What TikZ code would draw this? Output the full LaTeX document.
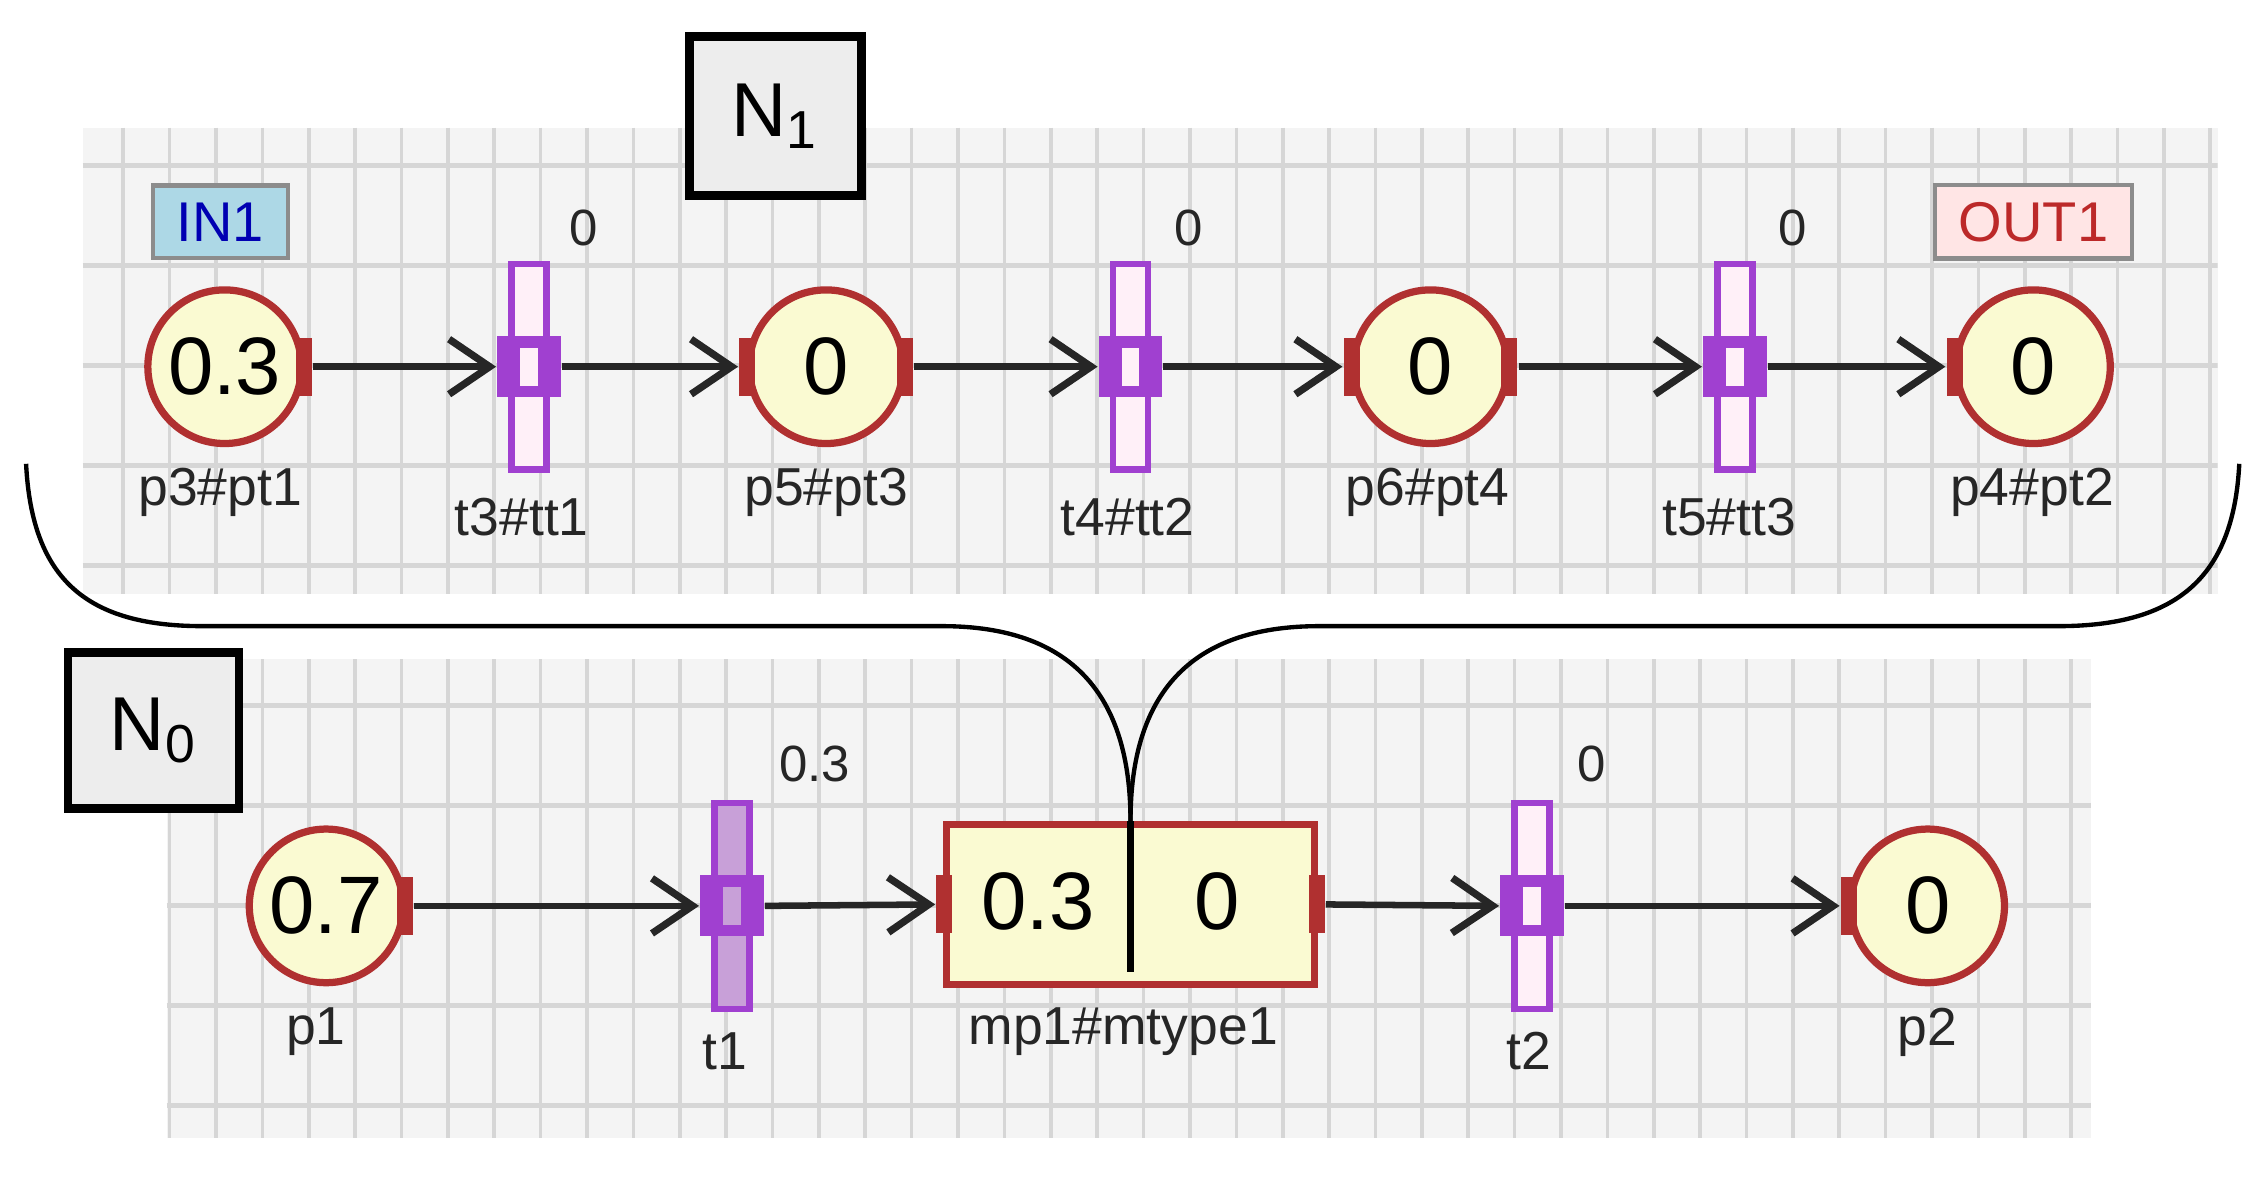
\documentclass[tikz,border=0pt]{standalone}
\usepackage{fontspec}
\setmainfont{Liberation Sans}
\usetikzlibrary{arrows.meta}
\definecolor{pred}{HTML}{B03030}
\definecolor{pfill}{HTML}{FAFAD2}
\definecolor{ppur}{HTML}{A040D0}
\definecolor{tfill}{HTML}{FFF0F8}
\definecolor{t1fill}{HTML}{C8A0D8}
\definecolor{bg}{HTML}{F4F4F4}
\definecolor{gridc}{HTML}{D6D6D6}
\definecolor{inblue}{HTML}{ADD8E6}
\begin{document}
\begin{tikzpicture}[x=0.1mm,y=-0.1mm,
  place/.style={circle,draw=pred,line width=0.5mm,fill=pfill,minimum size=10.6mm,inner sep=0pt,font=\fontsize{16}{16}\selectfont},
  tab/.style={rectangle,fill=pred,minimum width=1.1mm,minimum height=4mm,inner sep=0pt},
  trans/.style={rectangle,draw=ppur,line width=0.45mm,fill=tfill,minimum width=2.4mm,minimum height=14.2mm,inner sep=0pt},
  tblk/.style={rectangle,fill=ppur,minimum width=4.4mm,minimum height=4.2mm,inner sep=0pt},
  lbl/.style={font=\fontsize{10.5}{11}\selectfont,text=black!85},
  num/.style={font=\fontsize{10}{11}\selectfont,text=black!85},
  arc/.style={line width=0.45mm,black!85,-{Straight Barb[length=2.8mm,width=3.8mm,line width=0.5mm]}},
  netbox/.style={rectangle,draw=black,line width=0.6mm,fill=black!7,inner sep=0pt,font=\fontsize{15}{15}\selectfont},
  brace/.style={line width=0.3mm,black}]
\useasboundingbox (0,0) rectangle (1560,812);
\fill[white] (0,0) rectangle (1560,812);
% panels
\fill[bg] (57,88) rectangle (1530,410);
\fill[bg] (115,455) rectangle (1443,785);
\begin{scope}
\clip (57,88) rectangle (1530,410);
\foreach \i in {0,...,48} \draw[gridc,line width=0.25mm] (21+32*\i,88) -- ++(0,322);
\foreach \i in {0,...,4} \draw[gridc,line width=0.35mm] (57,114+69*\i) -- ++(1473,0);
\end{scope}
\begin{scope}
\clip (115,455) rectangle (1443,785);
\foreach \i in {0,...,48} \draw[gridc,line width=0.25mm] (21+32*\i,455) -- ++(0,330);
\foreach \i in {0,...,4} \draw[gridc,line width=0.35mm] (115,487+69*\i) -- ++(1328,0);
\end{scope}
% N1 net
\node[netbox,minimum width=11.9mm,minimum height=11mm] (N1) at (535,80) {N\textsubscript{1}};
\node[rectangle,draw=black!45,line width=0.3mm,fill=inblue,minimum width=9.3mm,minimum height=5mm,text=blue!70!black,font=\fontsize{11}{11}\selectfont] (in1) at (152,153) {IN1};
\node[rectangle,draw=black!45,line width=0.3mm,fill=red!10,minimum width=13.6mm,minimum height=4.8mm,text=pred!85!red,font=\fontsize{11}{11}\selectfont] (out1) at (1403,153) {OUT1};
\node[place] (p3) at (155,253) {0.3};
\node[place] (p5) at (570,253) {0};
\node[place] (p6) at (987,253) {0};
\node[place] (p4) at (1403,253) {0};
\foreach \p in {p3,p5,p6} \node[tab] at ([xshift=-0.3pt]\p.east) {};
\foreach \p in {p5,p6,p4} \node[tab] at ([xshift=0.3pt]\p.west) {};
\node[trans] (t3) at (365,253) {}; \node[tblk] (t3b) at (365,253) {};
\node[trans] (t4) at (780,253) {}; \node[tblk] (t4b) at (780,253) {};
\node[trans] (t5) at (1197,253) {}; \node[tblk] (t5b) at (1197,253) {};
\foreach \t/\x in {t3/365,t4/780,t5/1197} \fill[tfill] (\x-6,240) rectangle (\x+6,266);
\node[num] (n3) at (403,157) {0};
\node[num] (n4) at (820,157) {0};
\node[num] (n5) at (1237,157) {0};
\node[lbl] (l3) at (152,340) {p3\#pt1};
\node[lbl] (l5) at (570,340) {p5\#pt3};
\node[lbl] (l6) at (985,340) {p6\#pt4};
\node[lbl] (l4) at (1402,340) {p4\#pt2};
\node[lbl] (lt3) at (360,357) {t3\#tt1};
\node[lbl] (lt4) at (778,357) {t4\#tt2};
\node[lbl] (lt5) at (1193,357) {t5\#tt3};
\draw[arc] ([xshift=1.5pt]p3.east) -- (t3b.west);
\draw[arc] (t3b.east) -- ([xshift=-1.5pt]p5.west);
\draw[arc] ([xshift=1.5pt]p5.east) -- (t4b.west);
\draw[arc] (t4b.east) -- ([xshift=-1.5pt]p6.west);
\draw[arc] ([xshift=1.5pt]p6.east) -- (t5b.west);
\draw[arc] (t5b.east) -- ([xshift=-1.5pt]p4.west);
% N0 net
\node[netbox,minimum width=11.8mm,minimum height=10.8mm] (N0) at (106,504) {N\textsubscript{0}};
\node[place] (p1) at (225,625) {0.7};
\node[tab] at ([xshift=-0.3pt]p1.east) {};
\node[place] (p2) at (1330,625) {0};
\node[tab] at ([xshift=0.3pt]p2.west) {};
\node[trans,fill=t1fill] (t1) at (505,625) {}; \node[tblk] (t1b) at (505,625) {};
\node[trans] (t2) at (1057,625) {}; \node[tblk] (t2b) at (1057,625) {};
\fill[t1fill] (499,612) rectangle (511,638);
\fill[tfill] (1051,612) rectangle (1063,638);
\node[rectangle,draw=pred,line width=0.5mm,fill=pfill,minimum width=25.4mm,minimum height=11mm,inner sep=0pt] (mp1) at (780,624) {};
\node[tab] at ([xshift=0.3pt]mp1.west) {};
\node[tab] at ([xshift=-0.3pt]mp1.east) {};
\node[font=\fontsize{16}{16}\selectfont] (m1) at (716,622) {0.3};
\node[font=\fontsize{16}{16}\selectfont] (m2) at (840,622) {0};
\draw[line width=0.5mm,black] (mp1.north) -- ([yshift=3pt]mp1.south);
\node[num] (n1) at (562,527) {0.3};
\node[num] (n2) at (1098,527) {0};
\node[lbl] (lp1) at (218,712) {p1};
\node[lbl] (lt1) at (500,725) {t1};
\node[lbl] (lmp) at (775,712) {mp1\#mtype1};
\node[lbl] (lt2) at (1055,725) {t2};
\node[lbl] (lp2) at (1330,712) {p2};
\draw[arc] ([xshift=1.5pt]p1.east) -- (t1b.west);
\draw[arc] (t1b.east) -- ([xshift=-1.5pt]mp1.west);
\draw[arc] ([xshift=1.5pt]mp1.east) -- (t2b.west);
\draw[arc] (t2b.east) -- ([xshift=-1.5pt]p2.west);
% brace
\coordinate (bl) at (18,320);
\coordinate (br) at (1545,320);
\draw[brace] (bl) .. controls (22,400) and (60,432) .. (140,432) -- (650,432)
  .. controls (740,432) and (780,480) .. (mp1.north);
\draw[brace] (br) .. controls (1541,400) and (1500,432) .. (1420,432) -- (910,432)
  .. controls (820,432) and (780,480) .. (mp1.north);
\end{tikzpicture}
\end{document}
